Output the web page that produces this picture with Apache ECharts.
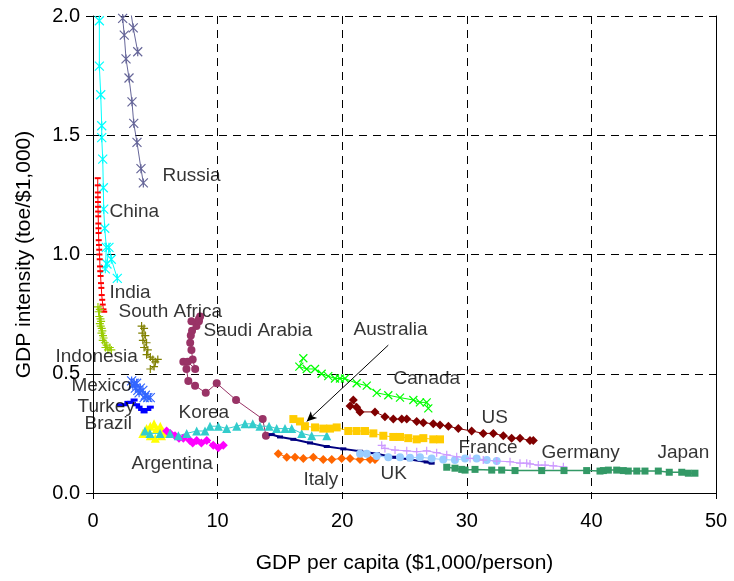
<!DOCTYPE html>
<html>
<head>
<meta charset="utf-8">
<script src="https://cdn.jsdelivr.net/npm/echarts@6/dist/echarts.min.js"></script>
<style>html,body{margin:0;padding:0;background:#fff}#c{width:734px;height:581px}</style>
</head>
<body>
<div id="c"></div>
<script>
// ---- data: [GDP per capita ($1,000/person), GDP intensity (toe/$1,000)] ----
const xTicks = [0, 10, 20, 30, 40, 50];
const yTicks = [0.0, 0.5, 1.0, 1.5, 2.0];

const russia = [[3.59,1.85],[3.23,1.95],[2.8,2.1],[2.38,1.99],[2.51,1.92],[2.65,1.82],[2.89,1.74],[3.13,1.64],[3.27,1.55],[3.53,1.47],[3.85,1.36],[4.04,1.30]];
const china = [[0.5,2.1],[0.51,1.98],[0.51,1.79],[0.62,1.67],[0.70,1.54],[0.70,1.49],[0.78,1.40],[0.83,1.28],[0.86,1.19],[0.94,1.11],[1.07,1.03],[0.99,0.94],[1.12,0.96],[1.28,1.03],[1.47,0.98],[1.95,0.90]];
const india = [[0.38,1.32],[0.38,1.29],[0.39,1.26],[0.39,1.24],[0.40,1.22],[0.40,1.20],[0.41,1.18],[0.42,1.16],[0.43,1.13],[0.44,1.11],[0.45,1.09],[0.46,1.06],[0.48,1.04],[0.50,1.02],[0.52,1.00],[0.54,0.98],[0.56,0.95],[0.58,0.93],[0.61,0.91],[0.64,0.88],[0.67,0.86],[0.70,0.83],[0.74,0.81],[0.78,0.79],[0.84,0.77],[0.90,0.76]];
const indonesia = [[0.40,0.78],[0.45,0.76],[0.55,0.77],[0.50,0.74],[0.60,0.73],[0.55,0.71],[0.65,0.72],[0.62,0.70],[0.70,0.69],[0.68,0.67],[0.75,0.68],[0.80,0.66],[0.78,0.64],[0.85,0.65],[0.95,0.63],[1.00,0.61],[1.10,0.62],[1.20,0.60],[1.35,0.61],[1.47,0.60]];
const southAfrica = [[3.9,0.70],[4.1,0.69],[3.95,0.67],[4.2,0.66],[4.0,0.64],[4.3,0.63],[4.1,0.61],[4.4,0.60],[4.3,0.58],[4.6,0.57],[4.8,0.56],[5.0,0.55],[5.2,0.56],[4.9,0.53],[4.6,0.52]];
const saudiArabia = [[13.88,0.24],[13.62,0.31],[11.48,0.39],[9.93,0.46],[9.05,0.42],[8.19,0.45],[7.65,0.47],[7.5,0.52],[7.25,0.55],[7.6,0.55],[8.2,0.52],[8.0,0.56],[7.9,0.60],[7.8,0.63],[7.85,0.66],[7.95,0.68],[8.3,0.70],[8.5,0.72],[8.6,0.74],[8.5,0.73],[7.9,0.72]];
const mexico = [[3.1,0.47],[3.3,0.46],[3.2,0.45],[3.5,0.46],[3.4,0.44],[3.6,0.43],[3.8,0.44],[3.7,0.42],[4.0,0.43],[4.2,0.41],[4.4,0.40],[4.1,0.40],[4.6,0.40]];
const turkey = [[2.2,0.37],[2.5,0.37],[2.8,0.38],[3.0,0.38],[3.3,0.39],[3.5,0.37],[3.7,0.36],[3.9,0.35],[4.1,0.34],[4.4,0.35],[4.6,0.36]];
const brazil = [[4.0,0.25],[4.3,0.27],[4.6,0.28],[4.9,0.29],[5.1,0.27],[5.4,0.28],[5.6,0.26],[5.9,0.25],[5.5,0.24],[5.0,0.23],[4.6,0.24]];
const argentina = [[5.91,0.26],[6.2,0.25],[6.58,0.24],[6.9,0.23],[7.25,0.23],[7.78,0.22],[8.0,0.21],[8.32,0.22],[8.7,0.21],[9.13,0.22],[9.65,0.20],[10.06,0.19],[10.46,0.20]];
const korea = [[4.17,0.26],[4.57,0.25],[5.38,0.25],[6.18,0.25],[6.85,0.24],[7.52,0.25],[8.32,0.26],[8.99,0.26],[9.39,0.28],[10.06,0.28],[10.73,0.27],[11.53,0.28],[12.20,0.29],[12.82,0.29],[13.40,0.28],[14.13,0.28],[14.74,0.27],[15.41,0.27],[15.95,0.27],[16.75,0.25],[17.55,0.24],[18.76,0.24]];
const canada = [[16.88,0.565],[16.56,0.53],[17.15,0.52],[17.82,0.52],[18.35,0.50],[18.88,0.49],[19.42,0.48],[19.82,0.48],[20.22,0.48],[21.16,0.46],[21.97,0.45],[22.77,0.42],[23.70,0.41],[24.64,0.40],[25.71,0.39],[26.24,0.38],[26.78,0.38],[26.91,0.355]];
const us = [[20.63,0.365],[20.89,0.39],[21.16,0.36],[21.43,0.34],[22.63,0.34],[23.43,0.32],[24.10,0.31],[24.78,0.31],[25.18,0.31],[25.98,0.30],[26.51,0.295],[27.31,0.29],[27.85,0.285],[28.52,0.28],[29.32,0.27],[30.39,0.26],[31.32,0.25],[32.13,0.25],[32.93,0.24],[33.60,0.23],[34.27,0.23],[35.07,0.22],[35.34,0.22]];
const australia = [[16.08,0.31],[16.61,0.30],[17.01,0.28],[17.82,0.275],[18.48,0.27],[19.02,0.27],[19.56,0.275],[20.49,0.26],[21.16,0.26],[21.83,0.26],[22.50,0.25],[23.30,0.24],[24.10,0.235],[24.64,0.235],[25.30,0.23],[25.98,0.225],[26.51,0.23],[27.31,0.225],[27.85,0.225]];
const uk = [[14.34,0.245],[15.01,0.235],[16.08,0.225],[17.42,0.21],[18.76,0.195],[20.09,0.185],[21.43,0.175],[22.77,0.165],[24.10,0.15],[25.44,0.14],[26.78,0.13],[27.18,0.125]];
const italy = [[14.87,0.165],[15.55,0.15],[16.21,0.15],[16.88,0.145],[17.68,0.15],[18.48,0.14],[19.16,0.14],[19.96,0.145],[20.63,0.145],[21.43,0.14],[22.23,0.14],[22.63,0.14]];
const france = [[21.43,0.165],[21.97,0.165],[22.77,0.155],[23.70,0.15],[24.64,0.15],[25.44,0.148],[26.24,0.15],[27.18,0.145],[28.11,0.14],[29.05,0.138],[29.86,0.145],[30.79,0.145],[31.60,0.138],[32.40,0.134]];
const germany = [[23.17,0.20],[23.43,0.187],[24.24,0.18],[25.18,0.177],[25.98,0.173],[26.78,0.177],[27.58,0.169],[28.39,0.16],[29.19,0.152],[30.26,0.145],[31.32,0.138],[32.40,0.134],[33.47,0.131],[34.27,0.125],[34.81,0.125],[35.07,0.122],[35.74,0.117],[36.28,0.117],[36.94,0.114],[37.75,0.11]];
const japan = [[28.39,0.108],[29.05,0.104],[29.59,0.099],[29.86,0.096],[30.66,0.099],[32.00,0.096],[32.80,0.096],[33.87,0.094],[36.01,0.094],[37.80,0.094],[39.62,0.094],[40.69,0.092],[40.96,0.094],[41.36,0.096],[42.03,0.096],[42.56,0.094],[42.96,0.092],[43.64,0.092],[44.30,0.092],[45.37,0.092],[46.25,0.087],[47.25,0.087],[47.78,0.083],[48.31,0.083]];

// country name annotations, anchored (left edge, middle) in data units
const labelNames = ['Russia','China','India','South Africa','Saudi Arabia','Indonesia','Mexico','Turkey','Brazil','Korea','Argentina','Australia','Canada','US','France','Germany','Japan','Italy','UK'];
const labelX = [5.54,1.28,1.28,2.01,8.83,-3.05,-1.77,-1.28,-0.72,6.82,3.05,20.87,24.08,31.14,29.29,35.96,45.26,16.85,23.03];
const labelY = [1.33,1.18,0.84,0.76,0.68,0.57,0.449,0.361,0.289,0.335,0.122,0.683,0.478,0.314,0.189,0.168,0.168,0.055,0.080];
const australiaArrow = [[23.7,0.62],[17.15,0.30]];

// ---- styling ----
const ASTER = 'path://M0,0L10,10M10,0L0,10M5,0L5,10';
const PLUS = 'path://M5,0L5,10M0,5L10,5';
const XMARK = 'path://M0,0L10,10M10,0L0,10';

function strokeSeries(name, data, color, symbol, size, lw) {
  return {
    name, type: 'line', data, symbol, symbolSize: size, clip: true,
    lineStyle: { color, width: lw || 1 },
    itemStyle: { color: color, borderColor: color, borderWidth: 1.2 },
    z: 3
  };
}
function fillSeries(name, data, color, symbol, size, lw) {
  return {
    name, type: 'line', data, symbol, symbolSize: size, clip: true,
    lineStyle: { color, width: lw || 1 },
    itemStyle: { color: color, borderWidth: 0 },
    z: 3
  };
}

const series = [
  strokeSeries('Russia', russia, '#666699', ASTER, 9),
  strokeSeries('China', china, '#00FFFF', ASTER, 9),
  fillSeries('India', india, '#FF0000', 'rect', [6, 2]),
  strokeSeries('Indonesia', indonesia, '#99CC00', PLUS, 8),
  strokeSeries('South Africa', southAfrica, '#808000', PLUS, 8),
  fillSeries('Saudi Arabia', saudiArabia, '#993366', 'circle', 8),
  strokeSeries('Mexico', mexico, '#3366FF', ASTER, 9),
  fillSeries('Turkey', turkey, '#0000FF', 'rect', [7, 3]),
  fillSeries('Brazil', brazil, '#FFFF00', 'triangle', 9),
  fillSeries('Argentina', argentina, '#FF00FF', 'diamond', 9),
  fillSeries('Korea', korea, '#33CCCC', 'triangle', 9),
  strokeSeries('Canada', canada, '#00FF00', XMARK, 8),
  fillSeries('US', us, '#800000', 'diamond', 9),
  Object.assign(fillSeries('Australia', australia, '#FFCC00', 'rect', 8), {
    markLine: {
      silent: true, symbol: ['none', 'arrow'], symbolSize: [7, 10],
      label: { show: false },
      lineStyle: { color: '#000', width: 1, type: 'solid' },
      data: [[{ coord: australiaArrow[0] }, { coord: australiaArrow[1] }]]
    }
  }),
  fillSeries('UK', uk, '#000080', 'rect', [6, 3], 2),
  fillSeries('Italy', italy, '#FF6600', 'diamond', 9),
  fillSeries('France', france, '#99CCFF', 'circle', 8),
  strokeSeries('Germany', germany, '#CC99FF', PLUS, 8),
  fillSeries('Japan', japan, '#339966', 'rect', 7, 1.5),
  {
    name: 'labels', type: 'scatter', clip: false, silent: true, z: 10,
    symbolSize: 1, itemStyle: { color: 'rgba(0,0,0,0)' },
    data: labelNames.map((n, i) => [labelX[i], labelY[i], n]),
    label: {
      show: true, position: 'right', distance: 0,
      formatter: p => p.data[2],
      color: '#000', fontSize: 19, fontFamily: 'Liberation Sans, Arial, sans-serif',
      align: 'left', verticalAlign: 'middle'
    }
  }
];

const chart = echarts.init(document.getElementById('c'), null, { renderer: 'canvas' });
const font = 'Liberation Sans, Arial, sans-serif';
chart.setOption({
  animation: false,
  backgroundColor: '#fff',
  grid: { left: 93, right: 18, top: 16, bottom: 88, containLabel: false },
  xAxis: {
    type: 'value', min: xTicks[0], max: xTicks[xTicks.length - 1], interval: xTicks[1] - xTicks[0],
    name: 'GDP per capita ($1,000/person)', nameLocation: 'middle', nameGap: 60,
    nameTextStyle: { color: '#000', fontSize: 21, fontFamily: font },
    axisLine: { show: true, onZero: false, lineStyle: { color: '#000', width: 1 } },
    axisTick: { show: true, length: 6, lineStyle: { color: '#000' } },
    axisLabel: { color: '#000', fontSize: 20, fontFamily: font, margin: 18 },
    splitLine: { show: true, lineStyle: { color: '#000', type: [8, 6], width: 1 } }
  },
  yAxis: [{
    type: 'value', min: yTicks[0], max: yTicks[yTicks.length - 1], interval: yTicks[1] - yTicks[0],
    name: 'GDP intensity (toe/$1,000)', nameLocation: 'middle', nameGap: 58,
    nameTextStyle: { color: '#000', fontSize: 21, fontFamily: font },
    axisLine: { show: true, onZero: false, lineStyle: { color: '#000', width: 1 } },
    axisTick: { show: true, length: 7, lineStyle: { color: '#000' } },
    axisLabel: { color: '#000', fontSize: 20, fontFamily: font, margin: 13, formatter: v => v.toFixed(1) },
    splitLine: { show: true, lineStyle: { color: '#000', type: [8, 6], width: 1 } }
  }, {
    type: 'value', position: 'right', min: yTicks[0], max: yTicks[yTicks.length - 1], interval: yTicks[1] - yTicks[0],
    axisLine: { show: true, onZero: false, lineStyle: { color: '#000', width: 1 } },
    axisTick: { show: false }, axisLabel: { show: false }, splitLine: { show: false }
  }],
  series
});
</script>
</body>
</html>
